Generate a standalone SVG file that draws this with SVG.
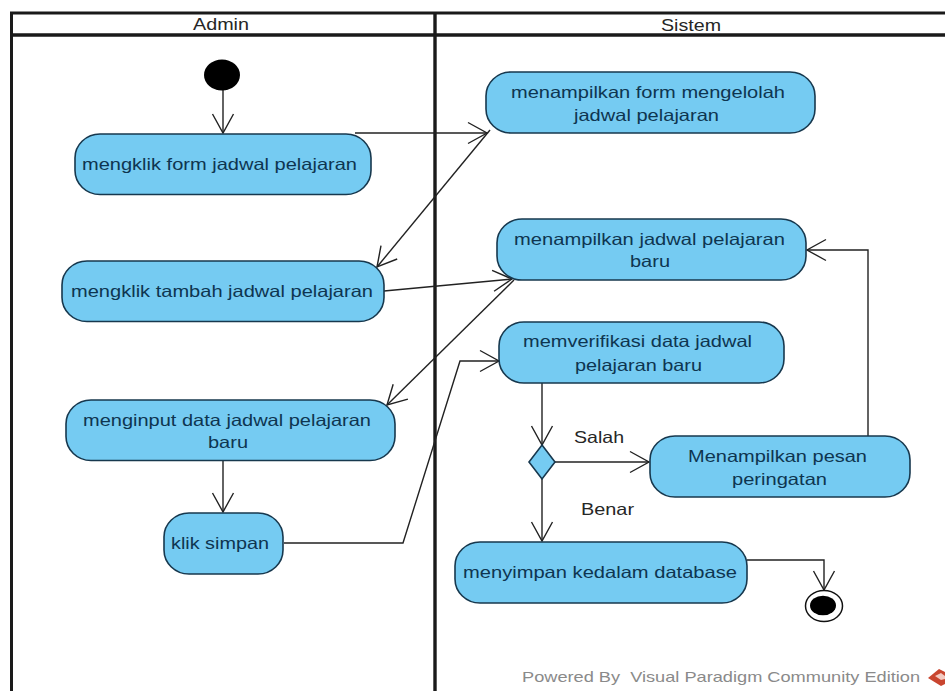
<svg xmlns="http://www.w3.org/2000/svg" width="945" height="691" viewBox="0 0 945 691">
<style>
.lane{stroke:#1a1a1a;fill:none}
.n{fill:#75CBF2;stroke:#17384e;stroke-width:1.6}
.t{font-family:"Liberation Sans",Arial,sans-serif;font-size:16.5px;fill:#0e3550}
.l{font-family:"Liberation Sans",Arial,sans-serif;font-size:16.5px;fill:#262626}
.c{fill:none;stroke:#222;stroke-width:1.4;marker-end:url(#a)}
</style>
<defs>
<marker id="a" markerUnits="userSpaceOnUse" markerWidth="24" markerHeight="28" refX="20" refY="12" orient="auto" overflow="visible">
<path d="M1 1.5L20 12L1 22.5" fill="none" stroke="#222" stroke-width="1.4"/>
</marker>
</defs>
<rect width="945" height="691" fill="#fff"/>
<g id="swimlanes">
<path class="lane" stroke-width="3" d="M945 13H11.500V691"/>
<path class="lane" stroke-width="3.400" d="M11 35H945M435 13V691"/>
<text class="l" x="193" y="30" textLength="56" lengthAdjust="spacingAndGlyphs">Admin</text>
<text class="l" x="661" y="31" textLength="60" lengthAdjust="spacingAndGlyphs">Sistem</text>
</g>
<g id="connectors">
<path class="c" d="M223 90V133"/>
<path class="c" d="M355 133H487"/>
<path class="c" d="M490 130L377 267"/>
<path class="c" d="M384 291L512 279"/>
<path class="c" d="M514 280L387 405"/>
<path class="c" d="M223 461V512"/>
<path class="c" d="M284 543H403L460 361H499"/>
<path class="c" d="M542 383V445"/>
<path class="c" d="M555 462H649"/>
<path class="c" d="M542 479V541"/>
<path class="c" d="M868 436V250H807"/>
<path class="c" d="M747 560H824V590"/>
</g>
<g id="start"><ellipse cx="222" cy="75" rx="18" ry="15.500" fill="#000"/></g>
<g id="form-jadwal"><rect class="n" x="75" y="134" width="296" height="60.500" rx="25" ry="24"/><text class="t" x="82" y="170" textLength="275" lengthAdjust="spacingAndGlyphs">mengklik form jadwal pelajaran</text></g>
<g id="tambah-jadwal"><rect class="n" x="62" y="261" width="322" height="60.500" rx="25" ry="24"/><text class="t" x="71" y="297" textLength="302" lengthAdjust="spacingAndGlyphs">mengklik tambah jadwal pelajaran</text></g>
<g id="input-data"><rect class="n" x="66" y="400" width="329" height="60.500" rx="25" ry="24"/><text class="t" x="83" y="426" textLength="288" lengthAdjust="spacingAndGlyphs">menginput data jadwal pelajaran</text><text class="t" x="208" y="448" textLength="40" lengthAdjust="spacingAndGlyphs">baru</text></g>
<g id="klik-simpan"><rect class="n" x="164" y="513" width="119" height="61" rx="25" ry="24"/><text class="t" x="171" y="549" textLength="98" lengthAdjust="spacingAndGlyphs">klik simpan</text></g>
<g id="tampil-form"><rect class="n" x="486" y="72" width="329" height="61" rx="25" ry="24"/><text class="t" x="511" y="98" textLength="274" lengthAdjust="spacingAndGlyphs">menampilkan form mengelolah</text><text class="t" x="574" y="121" textLength="145" lengthAdjust="spacingAndGlyphs">jadwal pelajaran</text></g>
<g id="tampil-jadwal"><rect class="n" x="497" y="219" width="309" height="61" rx="25" ry="24"/><text class="t" x="514" y="245" textLength="271" lengthAdjust="spacingAndGlyphs">menampilkan jadwal pelajaran</text><text class="t" x="630" y="267" textLength="40" lengthAdjust="spacingAndGlyphs">baru</text></g>
<g id="verifikasi"><rect class="n" x="499" y="322" width="285" height="61" rx="25" ry="24"/><text class="t" x="523" y="347" textLength="229" lengthAdjust="spacingAndGlyphs">memverifikasi data jadwal</text><text class="t" x="575" y="371" textLength="127" lengthAdjust="spacingAndGlyphs">pelajaran baru</text></g>
<g id="decision"><path class="n" d="M542 445L555 462L542 479L529 462Z"/><text class="l" x="574" y="443" textLength="50" lengthAdjust="spacingAndGlyphs">Salah</text><text class="l" x="581" y="515" textLength="53" lengthAdjust="spacingAndGlyphs">Benar</text></g>
<g id="pesan"><rect class="n" x="650" y="436" width="260" height="61" rx="25" ry="24"/><text class="t" x="688" y="462" textLength="179" lengthAdjust="spacingAndGlyphs">Menampilkan pesan</text><text class="t" x="732" y="485" textLength="95" lengthAdjust="spacingAndGlyphs">peringatan</text></g>
<g id="simpan-db"><rect class="n" x="455" y="542" width="292" height="61" rx="25" ry="24"/><text class="t" x="463" y="578" textLength="274" lengthAdjust="spacingAndGlyphs">menyimpan kedalam database</text></g>
<g id="final"><ellipse cx="824" cy="606" rx="18.500" ry="15.500" fill="#fff" stroke="#111" stroke-width="1.500"/><ellipse cx="823" cy="605.500" rx="13" ry="9.800" fill="#000"/></g>
<g id="watermark"><text x="522" y="682" style="white-space:pre" font-family="'Liberation Sans',Arial,sans-serif" font-size="14.500" fill="#8a8a8a" textLength="398" lengthAdjust="spacingAndGlyphs">Powered By  Visual Paradigm Community Edition</text><path d="M928 678L939 669L945 672V684L941 686Z" fill="#c9452f"/><path d="M935 676L941 673L945 676V679L941 680Z" fill="#f3c9c0"/></g>
</svg>
